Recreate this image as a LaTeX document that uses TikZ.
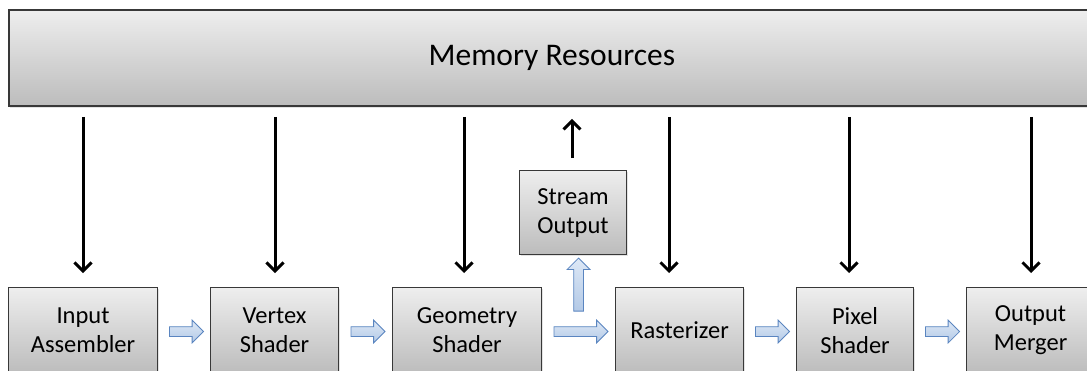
\documentclass[tikz,border=0pt]{standalone}
\usepackage{fontspec}
\setmainfont{Carlito}
\usetikzlibrary{arrows.meta,shapes.arrows,shadows,calc}

\definecolor{boxtop}{HTML}{EEEEEE}
\definecolor{boxbot}{HTML}{BCBCBC}
\definecolor{boxedge}{HTML}{383838}
\definecolor{flowtop}{HTML}{DDE8F6}
\definecolor{flowbot}{HTML}{B3C9E6}
\definecolor{flowedge}{HTML}{5A85C0}

\begin{document}
\begin{tikzpicture}[x=1pt,y=-1pt,
  panel/.style={draw=boxedge, top color=boxtop, bottom color=boxbot,
    anchor=north west, inner sep=0pt, align=center,
    drop shadow={opacity=0.22, shadow xshift=1.5pt, shadow yshift=-1.8pt}},
  stage/.style={panel, line width=1.1pt, minimum height=86pt,
    font=\fontsize{24.5}{29}\selectfont},
  memlink/.style={line width=3pt,
    -{Straight Barb[length=8.5pt,width=17pt,line width=3pt]}},
  flow/.style={single arrow, draw=flowedge, line width=0.8pt,
    top color=flowtop, bottom color=flowbot,
    inner xsep=0pt, inner ysep=4.5pt, single arrow head extend=6.5pt,
    single arrow tip angle=90}
]
\useasboundingbox (0,0) rectangle (1087,370);
\clip (0,0) rectangle (1087,370);

% shared resources across the top
\node[panel, line width=1.8pt, minimum width=1086pt, minimum height=96pt,
      font=\fontsize{31.5}{38}\selectfont] (mem) at (8,9) {Memory Resources};

% pipeline stages
\node[stage, minimum width=149pt] (ia) at (8,287)   {Input\\Assembler};
\node[stage, minimum width=128pt] (vs) at (210,287) {Vertex\\Shader};
\node[stage, minimum width=149pt] (gs) at (392,287) {Geometry\\Shader};
\node[stage, minimum width=128pt] (rs) at (615,287) {Rasterizer};
\node[stage, minimum width=117pt] (ps) at (796,287) {Pixel\\Shader};
\node[stage, minimum width=128pt] (om) at (966,287) {Output\\Merger};
\node[stage, minimum width=107pt, minimum height=84pt] (so) at (519,170) {Stream\\Output};

% memory access columns
\coordinate (c1) at (83,0);
\coordinate (c2) at (275,0);
\coordinate (c3) at (464,0);
\coordinate (c4) at (669,0);
\coordinate (c5) at (849,0);
\coordinate (c6) at (1031,0);
\coordinate (c7) at (572,0);

\draw[memlink, shorten <=10pt, shorten >=14pt] (c1 |- mem.south) -- (c1 |- ia.north);
\draw[memlink, shorten <=10pt, shorten >=14pt] (c2 |- mem.south) -- (c2 |- vs.north);
\draw[memlink, shorten <=10pt, shorten >=14pt] (c3 |- mem.south) -- (c3 |- gs.north);
\draw[memlink, shorten <=10pt, shorten >=14pt] (c4 |- mem.south) -- (c4 |- rs.north);
\draw[memlink, shorten <=10pt, shorten >=14pt] (c5 |- mem.south) -- (c5 |- ps.north);
\draw[memlink, shorten <=10pt, shorten >=14pt] (c6 |- mem.south) -- (c6 |- om.north);
\draw[memlink, shorten <=12pt, shorten >=12pt] (c7 |- so.north) -- (c7 |- mem.south);

% data flow between stages
\node[flow, minimum height=34pt] (f1) at ($(ia.east)!0.5!(vs.west)+(0,1)$) {};
\node[flow, minimum height=34pt] (f2) at ($(vs.east)!0.5!(gs.west)+(0,1)$) {};
\node[flow, minimum height=54pt] (f3) at ($(gs.east)!0.5!(rs.west)+(0,1)$) {};
\node[flow, minimum height=34pt] (f4) at ($(rs.east)!0.5!(ps.west)+(0,1)$) {};
\node[flow, minimum height=34pt] (f5) at ($(ps.east)!0.5!(om.west)+(0,1)$) {};
\node[flow, minimum height=53pt, rotate=90] (f6) at ($(f3.center)+(0,-44.5)$) {};
\end{tikzpicture}
\end{document}
